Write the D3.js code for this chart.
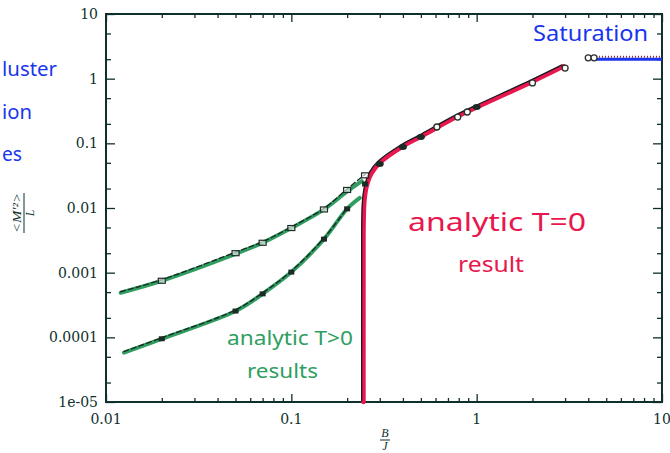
<!DOCTYPE html>
<html>
<head>
<meta charset="utf-8">
<script src="https://cdn.jsdelivr.net/npm/d3@7"></script>
<style>
  body { margin: 0; background: #fff; }
  svg { display: block; }
</style>
</head>
<body>
<div class="chart"></div>
<script>
// upper finite-T curve (analytic, green) and its cluster data (dashed + open markers)
const upperB = [0.012, 0.02, 0.05, 0.07, 0.1, 0.15, 0.2, 0.24]
const upperM = [0.00049, 0.00075, 0.00195, 0.0029, 0.0049, 0.0095, 0.018, 0.026]
const upperDataB = [0.02, 0.05, 0.07, 0.1, 0.15, 0.2, 0.25]
const upperDataM = [0.00075, 0.002, 0.0029, 0.0049, 0.0095, 0.019, 0.032]

// lower finite-T curve and its data (filled markers)
const lowerB = [0.0125, 0.02, 0.05, 0.07, 0.1, 0.15, 0.2, 0.234]
const lowerM = [0.000058, 0.000095, 0.000255, 0.00047, 0.00102, 0.0033, 0.0097, 0.0143]
const lowerDataB = [0.02, 0.05, 0.07, 0.1, 0.15, 0.2, 0.25]
const lowerDataM = [0.000095, 0.000255, 0.00047, 0.00102, 0.0033, 0.0097, 0.0235]

// analytic T=0 result
const zeroB = [0.245, 0.245, 0.2455, 0.248, 0.255, 0.27, 0.3, 0.4, 0.5, 0.78, 1, 2, 2.95]
const zeroM = [0.00001, 0.001, 0.006, 0.013, 0.022, 0.034, 0.05, 0.09, 0.127, 0.257, 0.36, 0.9, 1.55]

// T=0 cluster data
const zeroFilledB = [0.3, 0.4, 0.5, 1.0]
const zeroFilledM = [0.048, 0.088, 0.125, 0.365]
const zeroOpenB = [0.61, 0.79, 0.89, 2.0, 3.0]
const zeroOpenM = [0.179, 0.255, 0.305, 0.86, 1.46]

// saturation
const satDataB = [4.0, 4.3]
const satDataM = [2.1, 2.1]
const satLineB = [4.4, 10]
const satLevel = 2

const xTickValues = [0.01, 0.1, 1, 10]
const xTickLabels = ['0.01', '0.1', '1', '10']
const yTickValues = [1e-5, 1e-4, 1e-3, 0.01, 0.1, 1, 10]
const yTickLabels = ['1e-05', '0.0001', '0.001', '0.01', '0.1', '1', '10']

const W = 670, H = 453
const plot = { left: 106, right: 662, top: 14, bottom: 402 }
const axisColor = '#0e2f2b'
const green = '#2f9e60'
const red = '#e8174d'
const blue = '#1a35ee'

const svg = d3.select('.chart').append('svg')
  .attr('width', W).attr('height', H)

const x = d3.scaleLog().domain([0.01, 10]).range([plot.left, plot.right])
const y = d3.scaleLog().domain([1e-5, 10]).range([plot.bottom, plot.top])

// minor ticks
const xMinor = []
const yMinor = []
for (let e = -2; e < 1; e++) for (let k = 2; k <= 9; k++) xMinor.push(k * Math.pow(10, e))
for (let e = -5; e < 1; e++) [2, 5].forEach(k => yMinor.push(k * Math.pow(10, e)))

const tickStyle = g => {
  g.select('.domain').remove()
  g.selectAll('line').attr('stroke', axisColor).attr('stroke-width', 1.3)
}

const addAxis = (axis, tx, ty, vals, size) => {
  svg.append('g')
    .attr('transform', `translate(${tx},${ty})`)
    .call(axis.tickValues(vals).tickSize(-size).tickFormat(''))
    .call(tickStyle)
}
addAxis(d3.axisBottom(x), 0, plot.bottom, xMinor, 4)
addAxis(d3.axisBottom(x), 0, plot.bottom, xTickValues, 8)
addAxis(d3.axisTop(x), 0, plot.top, xMinor, 4)
addAxis(d3.axisTop(x), 0, plot.top, xTickValues, 8)
addAxis(d3.axisLeft(y), plot.left, 0, yMinor, 5)
addAxis(d3.axisLeft(y), plot.left, 0, yTickValues, 9)
addAxis(d3.axisRight(y), plot.right, 0, yMinor, 5)
addAxis(d3.axisRight(y), plot.right, 0, yTickValues, 9)

svg.append('rect')
  .attr('x', plot.left).attr('y', plot.top)
  .attr('width', plot.right - plot.left).attr('height', plot.bottom - plot.top)
  .attr('fill', 'none').attr('stroke', axisColor).attr('stroke-width', 2)

// tick labels
const labelFont = '"DejaVu Serif", "Liberation Serif", serif'
svg.append('g').selectAll('text')
  .data(xTickValues)
  .join('text')
  .attr('x', d => x(d)).attr('y', 424)
  .attr('text-anchor', 'middle')
  .attr('font-family', labelFont).attr('font-size', 14)
  .attr('fill', axisColor)
  .text((d, i) => xTickLabels[i])

svg.append('g').selectAll('text')
  .data(yTickValues)
  .join('text')
  .attr('x', 98).attr('y', d => y(d) + 5)
  .attr('text-anchor', 'end')
  .attr('font-family', labelFont).attr('font-size', 14)
  .attr('fill', axisColor)
  .text((d, i) => yTickLabels[i])

// axis titles as fractions
const titleFont = '"Liberation Serif", serif'
const xt = svg.append('g').attr('transform', 'translate(385,440)')
  .attr('font-family', titleFont).attr('font-style', 'italic')
  .attr('font-size', 12).attr('fill', axisColor).attr('text-anchor', 'middle')
xt.append('text').attr('y', -3).text('B')
xt.append('line').attr('x1', -5).attr('x2', 5).attr('stroke', axisColor).attr('stroke-width', 1)
xt.append('text').attr('y', 10).text('J')

const yt = svg.append('g').attr('transform', 'translate(24,213) rotate(-90)')
  .attr('font-family', titleFont).attr('font-style', 'italic')
  .attr('font-size', 12).attr('fill', axisColor).attr('text-anchor', 'middle')
yt.append('text').attr('y', -3).attr('textLength', 40).attr('lengthAdjust', 'spacingAndGlyphs')
  .text('<M\u2032\u00b2>')
yt.append('line').attr('x1', -20).attr('x2', 20).attr('stroke', axisColor).attr('stroke-width', 1)
yt.append('text').attr('y', 10).text('L')

// curves
const toPts = (bs, ms) => bs.map((b, i) => [b, ms[i]])
const line = d3.line().x(d => x(d[0])).y(d => y(d[1])).curve(d3.curveCatmullRom.alpha(0.5))

const drawPath = (pts, stroke, width, dash, shift) => {
  svg.append('path')
    .datum(pts)
    .attr('d', line)
    .attr('fill', 'none')
    .attr('stroke', stroke)
    .attr('stroke-width', width)
    .attr('stroke-linecap', 'round')
    .attr('stroke-dasharray', dash || null)
    .attr('transform', shift ? `translate(${shift[0]},${shift[1]})` : null)
}

// green analytic T>0 curves
drawPath(toPts(upperB, upperM), green, 4)
drawPath(toPts(lowerB, lowerM), green, 4)
// dashed cluster-data lines
drawPath(toPts([upperB[0]].concat(upperDataB), [upperM[0]].concat(upperDataM)), '#1b2b26', 1.4, '5,3', [0, -1])
drawPath(toPts([lowerB[0]].concat(lowerDataB.slice(0, -1)), [lowerM[0]].concat(lowerDataM.slice(0, -1))), '#1b2b26', 1.4, '5,3', [0, -1])

// red T=0 curve with dark overlay
drawPath(toPts(zeroB, zeroM), red, 4.5)
drawPath(toPts(zeroB, zeroM), '#1a1a22', 1.3, null, [-1.8, -1.5])

// saturation line
svg.append('line')
  .attr('x1', x(satLineB[0])).attr('x2', x(satLineB[1]))
  .attr('y1', y(satLevel)).attr('y2', y(satLevel))
  .attr('stroke', blue).attr('stroke-width', 3)
svg.append('line')
  .attr('x1', x(satLineB[0])).attr('x2', x(satLineB[1]))
  .attr('y1', y(satLevel) - 2.5).attr('y2', y(satLevel) - 2.5)
  .attr('stroke', '#8a1f3a').attr('stroke-width', 2).attr('stroke-dasharray', '1,2')

// markers
const openSquares = toPts(upperDataB, upperDataM)
svg.append('g').selectAll('rect')
  .data(openSquares)
  .join('rect')
  .attr('x', d => x(d[0]) - 3.5).attr('y', d => y(d[1]) - 2.5)
  .attr('width', 7).attr('height', 5)
  .attr('fill', '#fff').attr('fill-opacity', 0.6)
  .attr('stroke', '#1b2b26').attr('stroke-width', 1.2)

const filledSquares = toPts(lowerDataB, lowerDataM)
svg.append('g').selectAll('rect')
  .data(filledSquares)
  .join('rect')
  .attr('x', d => x(d[0]) - 3).attr('y', d => y(d[1]) - 2.5)
  .attr('width', 6).attr('height', 5)
  .attr('fill', '#1b2b26')

svg.append('g').selectAll('ellipse')
  .data(toPts(zeroFilledB, zeroFilledM))
  .join('ellipse')
  .attr('cx', d => x(d[0])).attr('cy', d => y(d[1]))
  .attr('rx', 4).attr('ry', 3)
  .attr('fill', '#1b2b26')

svg.append('g').selectAll('circle')
  .data(toPts(zeroOpenB, zeroOpenM).concat(toPts(satDataB, satDataM)))
  .join('circle')
  .attr('cx', d => x(d[0])).attr('cy', d => y(d[1]))
  .attr('r', 3)
  .attr('fill', '#fff')
  .attr('stroke', '#2a2f2a').attr('stroke-width', 1.3)

// handwritten annotations
const handFont = '"Noto Sans", "DejaVu Sans", sans-serif'
const note = (txt, xPos, yPos, size, color, len, anchor) => {
  const t = svg.append('text')
    .attr('x', xPos).attr('y', yPos)
    .attr('font-family', handFont).attr('font-size', size)
    .attr('fill', color)
    .attr('text-anchor', anchor || 'start')
    .text(txt)
  if (len) t.attr('textLength', len).attr('lengthAdjust', 'spacingAndGlyphs')
}
note('Saturation', 533, 41, 21, blue, 115)
note('analytic T=0', 408, 231, 25, red, 178)
note('result', 458, 272, 22, red, 66)
note('analytic T>0', 227, 345, 20, green, 126)
note('results', 247, 378, 20, green, 71)
// fragments at the left edge, as far as the reference shows them
note('luster', 2, 76, 20, blue, 55)
note('ion', 2, 119, 20, blue, 30)
note('es', 2, 161, 20, blue, 20)
</script>
</body>
</html>
